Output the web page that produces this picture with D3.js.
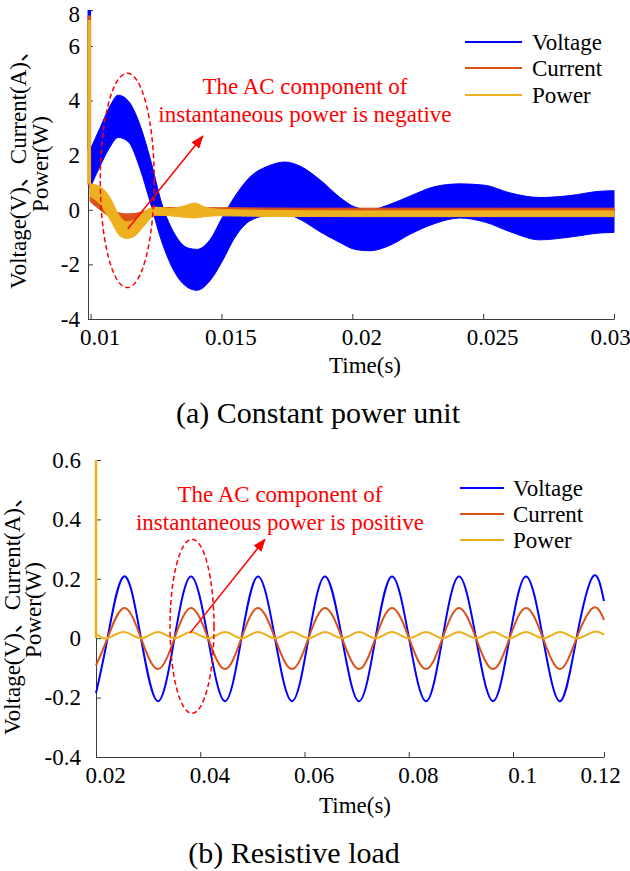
<!DOCTYPE html>
<html>
<head>
    <meta charset="utf-8">
    <title>Voltage, current and power</title>
    <script src="https://d3js.org/d3.v7.min.js"></script>
    <style>
        body { margin: 0; background: #fff; }
        svg text {
            font-family: "Liberation Serif", "Times New Roman", "Noto Sans CJK SC", serif;
            fill: #000;
        }
        .axis path, .axis line { stroke: #3a3a3a; stroke-width: 1; }
        .axis text { font-size: 23px; }
    </style>
</head>
<body>
<script>
    // ---------- (a) Constant power unit ----------
    // voltage is a dense high-frequency band -> upper / lower envelope
    var timeVoltA  = [0.00998, 0.01036, 0.01074, 0.01105, 0.01143, 0.01189, 0.01227, 0.01273, 0.01322, 0.01372, 0.01406,
                      0.01456, 0.01502, 0.01552, 0.01609, 0.01678, 0.01743, 0.01800, 0.01876, 0.01953, 0.02010, 0.02068,
                      0.02144, 0.02220, 0.02316, 0.02411, 0.02507, 0.02602, 0.02717, 0.02832, 0.02946, 0.03];
    var voltUpperA = [2.2, 3.0, 3.8, 4.2, 4.0, 3.1, 1.9, 0.2, -0.9, -1.4, -1.45,
                      -1.1, -0.3, 0.5, 1.2, 1.6, 1.75, 1.6, 1.1, 0.45, 0.1, 0.0,
                      0.2, 0.5, 0.85, 0.95, 0.9, 0.62, 0.45, 0.52, 0.68, 0.7];
    var voltLowerA = [0.8, 1.6, 2.3, 2.65, 2.5, 1.5, 0.3, -1.2, -2.3, -2.85, -2.95,
                      -2.6, -1.9, -1.0, -0.4, -0.2, -0.15, -0.35, -0.8, -1.2, -1.45, -1.5,
                      -1.3, -0.9, -0.5, -0.3, -0.45, -0.8, -1.1, -1.0, -0.85, -0.83];

    var timeCurA  = [0.00998, 0.01036, 0.01074, 0.01112, 0.01139, 0.01189, 0.01227, 0.01265, 0.01418, 0.01800, 0.02182, 0.02564, 0.03];
    var curUpperA = [0.9, 0.4, 0.05, -0.12, -0.15, -0.1, 0.0, 0.08, 0.08, 0.06, 0.06, 0.06, 0.06];
    var curLowerA = [0.3, 0.0, -0.25, -0.38, -0.42, -0.35, -0.2, -0.12, -0.12, -0.1, -0.1, -0.1, -0.1];

    var timePowA  = [0.00998, 0.01036, 0.01074, 0.01112, 0.01139, 0.0117, 0.01208, 0.01246, 0.01303, 0.01361, 0.01399,
                     0.01437, 0.01494, 0.01647, 0.01991, 0.02373, 0.02755, 0.03];
    var powUpperA = [0.95, 0.85, 0.45, -0.25, -0.45, -0.35, -0.05, 0.1, 0.05, 0.15, 0.25,
                     0.1, 0.02, -0.02, -0.04, -0.04, -0.04, -0.04];
    var powLowerA = [0.5, 0.2, -0.35, -0.95, -1.05, -0.95, -0.55, -0.2, -0.22, -0.28, -0.3,
                     -0.25, -0.22, -0.24, -0.25, -0.25, -0.25, -0.25];

    // start-up spike at the left edge: [time, top, bottom] for voltage, current, power
    var spikeA = [[0.00995, 8.0, 2.2], [0.00995, 7.7, 0.9], [0.00995, 7.45, 0.95]];

    var xTicksA = [0.01, 0.015, 0.02, 0.025, 0.03];
    var yTicksA = [-4, -2, 0, 2, 4, 6, 8];

    // ---------- (b) Resistive load ----------
    var timeB = [0.02, 0.02221, 0.02537, 0.02863, 0.03189, 0.03506, 0.03823, 0.04149, 0.04475, 0.04791, 0.05108,
                 0.05434, 0.05760, 0.06077, 0.06393, 0.06720, 0.07046, 0.07362, 0.07679, 0.08005, 0.08331, 0.08648,
                 0.08964, 0.09290, 0.09616, 0.09933, 0.10286, 0.10659, 0.11033, 0.11396, 0.11758, 0.12];
    var voltB = [-0.185, 0, 0.208, 0, -0.212, 0, 0.208, 0, -0.212, 0, 0.208,
                 0, -0.212, 0, 0.208, 0, -0.212, 0, 0.208, 0, -0.212, 0,
                 0.208, 0, -0.212, 0, 0.208, 0, -0.212, 0, 0.208, 0.125];
    var curB  = [-0.092, 0, 0.102, 0, -0.104, 0, 0.102, 0, -0.104, 0, 0.102,
                 0, -0.104, 0, 0.102, 0, -0.104, 0, 0.102, 0, -0.104, 0,
                 0.102, 0, -0.104, 0, 0.102, 0, -0.104, 0, 0.102, 0.062];
    var powB  = [0.016, 0, 0.021, 0, 0.021, 0, 0.021, 0, 0.021, 0, 0.021,
                 0, 0.021, 0, 0.021, 0, 0.021, 0, 0.021, 0, 0.021, 0,
                 0.021, 0, 0.021, 0, 0.021, 0, 0.021, 0, 0.021, 0.012];
    var spikeB = [0.02, 0.6, 0.0];   // power spike at t = 0.02

    var xTicksB = [0.02, 0.04, 0.06, 0.08, 0.1, 0.12];
    var yTicksB = [-0.4, -0.2, 0, 0.2, 0.4, 0.6];

    var seriesNames  = ["Voltage", "Current", "Power"];
    var seriesColors = ["#0000ff", "#d95319", "#edb120"];

    // ---------- svg ----------
    var svg = d3.select("body").append("svg")
        .attr("width", 630)
        .attr("height", 871);

    svg.append("defs").append("marker")
        .attr("id", "arrow")
        .attr("markerUnits", "userSpaceOnUse")
        .attr("markerWidth", 13).attr("markerHeight", 10)
        .attr("refX", 12).attr("refY", 5)
        .attr("orient", "auto")
        .append("path")
        .attr("d", "M0,0 L13,5 L0,10 z")
        .attr("fill", "#ff0000");

    // scales (the printed axes are slightly uneven, so a few are piecewise)
    var xA = d3.scaleLinear().domain([0.0099, 0.03]).range([88, 614]);
    var yA = d3.scaleLinear().domain([-4, 6, 8]).range([319, 46, 10]);
    var xB = d3.scaleLinear().domain([0.02, 0.1, 0.12]).range([96, 513, 604]);
    var yB = d3.scaleLinear().domain([-0.4, 0.6]).range([757, 460]);

    function drawAxes(x, y, xTicks, yTicks, yPad) {
        var gx = svg.append("g")
            .attr("class", "axis")
            .attr("transform", "translate(0," + y.range()[0] + ")")
            .call(d3.axisBottom(x).tickValues(xTicks).tickFormat(String)
                .tickSizeInner(-5).tickSizeOuter(0).tickPadding(10));
        gx.selectAll("text")
            .attr("dx", function(d, i, n) { return i === n.length - 1 ? -4 : 9; });

        var gy = svg.append("g")
            .attr("class", "axis")
            .attr("transform", "translate(" + x.range()[0] + ",0)")
            .call(d3.axisLeft(y).tickValues(yTicks).tickFormat(String)
                .tickSizeInner(-5).tickSizeOuter(0).tickPadding(yPad));
        // keep the top label inside the picture
        gy.selectAll("text")
            .filter(function(d) { return y(d) < 15; })
            .attr("dy", "0.48em");
        gx.attr("font-family", null).attr("font-size", null);
        gy.attr("font-family", null).attr("font-size", null);
    }

    function legend(x0, x1, xt, ys) {
        seriesNames.forEach(function(name, i) {
            svg.append("line")
                .attr("x1", x0).attr("x2", x1)
                .attr("y1", ys[i]).attr("y2", ys[i])
                .attr("stroke", seriesColors[i])
                .attr("stroke-width", 2);
            svg.append("text")
                .attr("x", xt).attr("y", ys[i] + 8)
                .style("font-size", "23px")
                .text(name);
        });
    }

    function yLabel(x1, x2, yc) {
        svg.append("text")
            .attr("transform", "translate(" + x1 + "," + yc + ") rotate(-90)")
            .attr("text-anchor", "middle")
            .attr("dominant-baseline", "central")
            .style("font-size", "23px")
            .text("Voltage(V)、Current(A)、");
        svg.append("text")
            .attr("transform", "translate(" + x2 + "," + yc + ") rotate(-90)")
            .attr("text-anchor", "middle")
            .attr("dominant-baseline", "central")
            .style("font-size", "23px")
            .text("Power(W)");
    }

    function note(x, y, cx, v, lines, ell, arr) {
        // dashed ellipse
        svg.append("ellipse")
            .attr("cx", x(ell[0]))
            .attr("cy", (y(ell[2]) + y(ell[3])) / 2)
            .attr("rx", x(ell[0] + ell[1]) - x(ell[0]))
            .attr("ry", (y(ell[3]) - y(ell[2])) / 2)
            .attr("fill", "none")
            .attr("stroke", "#ff0000")
            .attr("stroke-width", 1.5)
            .attr("stroke-dasharray", "5,3");
        // arrow
        svg.append("line")
            .attr("x1", x(arr[0])).attr("y1", y(arr[1]))
            .attr("x2", x(arr[2])).attr("y2", y(arr[3]))
            .attr("stroke", "#ff0000")
            .attr("stroke-width", 1.5)
            .attr("marker-end", "url(#arrow)");
        // text
        lines.forEach(function(s, i) {
            svg.append("text")
                .attr("x", x(cx)).attr("y", y(v) + i * 28)
                .attr("text-anchor", "middle")
                .style("font-size", "23px")
                .style("fill", "#ff0000")
                .text(s);
        });
    }

    // ---------- panel (a) ----------
    drawAxes(xA, yA, xTicksA, yTicksA, 8);

    var bandA = d3.area()
        .x(function(d) { return xA(d[0]); })
        .y1(function(d) { return yA(d[1]); })
        .y0(function(d) { return yA(d[2]); })
        .curve(d3.curveMonotoneX);

    var bandsA = [
        d3.zip(timeVoltA, voltUpperA, voltLowerA),
        d3.zip(timeCurA, curUpperA, curLowerA),
        d3.zip(timePowA, powUpperA, powLowerA)
    ];
    bandsA.forEach(function(data, i) {
        svg.append("path")
            .datum(data)
            .attr("d", bandA)
            .attr("fill", seriesColors[i])
            .attr("stroke", seriesColors[i])
            .attr("stroke-width", 1);
        svg.append("line")
            .attr("x1", xA(spikeA[i][0])).attr("x2", xA(spikeA[i][0]))
            .attr("y1", yA(spikeA[i][1])).attr("y2", yA(spikeA[i][2]))
            .attr("stroke", seriesColors[i])
            .attr("stroke-width", 3.5);
    });

    note(xA, yA, 0.01819, 4.25,
        ["The AC component of", "instantaneous power is negative"],
        [0.0114, 0.00103, 5.0, -2.85],
        [0.01142, -0.7, 0.01429, 2.7]);

    legend(465, 522, 532, [42, 68, 95]);
    yLabel(18, 40, 164);

    svg.append("text")
        .attr("x", 365).attr("y", 373)
        .attr("text-anchor", "middle")
        .style("font-size", "23px")
        .text("Time(s)");
    svg.append("text")
        .attr("x", 318).attr("y", 423)
        .attr("text-anchor", "middle")
        .style("font-size", "30px")
        .text("(a) Constant power unit");

    // ---------- panel (b) ----------
    drawAxes(xB, yB, xTicksB, yTicksB, 15);

    var lineB = d3.line()
        .x(function(d) { return xB(d[0]); })
        .y(function(d) { return yB(d[1]); })
        .curve(d3.curveNatural);

    svg.append("line")
        .attr("x1", xB(spikeB[0])).attr("x2", xB(spikeB[0]))
        .attr("y1", yB(spikeB[1])).attr("y2", yB(spikeB[2]))
        .attr("stroke", seriesColors[2])
        .attr("stroke-width", 2.5);

    [voltB, curB, powB].forEach(function(vals, i) {
        svg.append("path")
            .datum(d3.zip(timeB, vals))
            .attr("d", lineB)
            .attr("fill", "none")
            .attr("stroke", seriesColors[i])
            .attr("stroke-width", 2);
    });

    note(xB, yB, 0.0553, 0.458,
        ["The AC component of", "instantaneous power is positive"],
        [0.03842, 0.00422, 0.333, -0.253],
        [0.03803, 0.017, 0.05242, 0.333]);

    legend(460, 504, 513, [488, 514, 540]);
    yLabel(12, 33, 610);

    svg.append("text")
        .attr("x", 355).attr("y", 813)
        .attr("text-anchor", "middle")
        .style("font-size", "23px")
        .text("Time(s)");
    svg.append("text")
        .attr("x", 294).attr("y", 863)
        .attr("text-anchor", "middle")
        .style("font-size", "30px")
        .text("(b) Resistive load");
</script>
</body>
</html>
